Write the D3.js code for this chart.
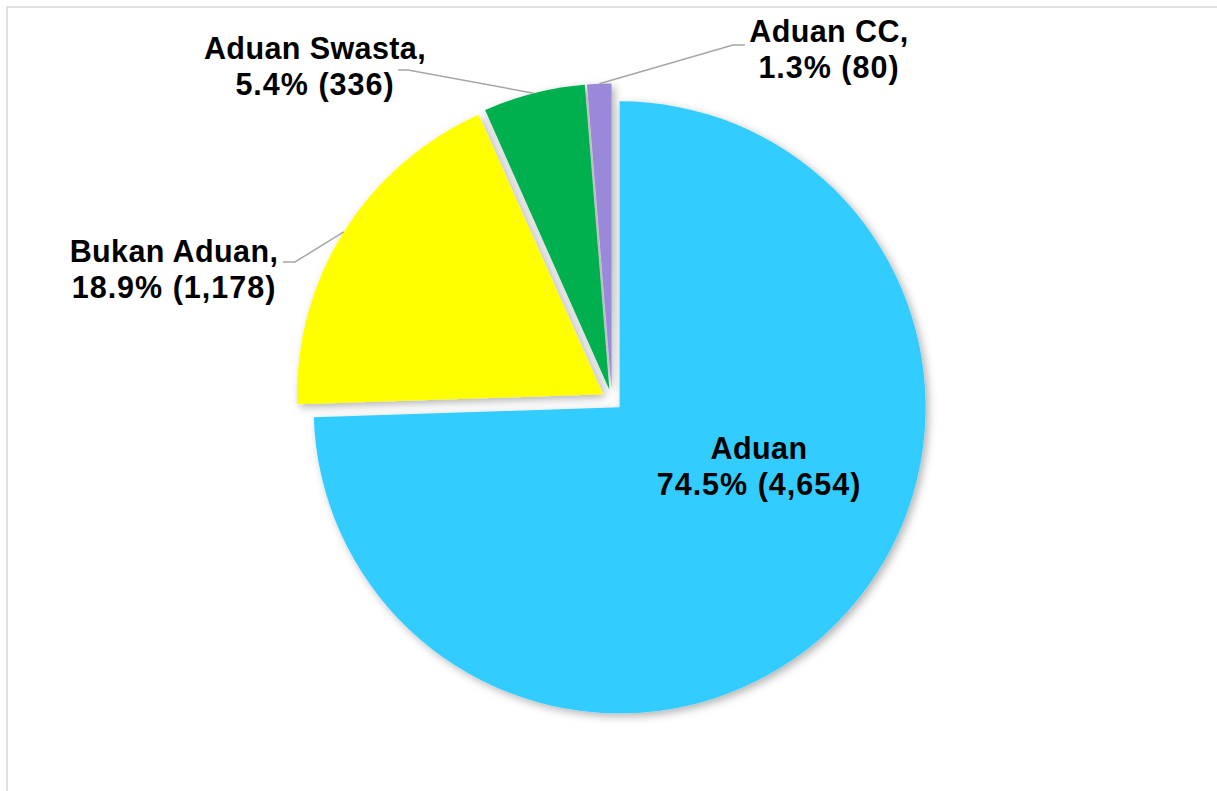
<!DOCTYPE html>
<html>
<head>
<meta charset="utf-8">
<script src="https://cdn.jsdelivr.net/npm/d3@7"></script>
<style>
  body { margin: 0; background: #fff; }
  .lbl { font-family: "Liberation Sans", Arial, sans-serif; font-weight: bold; font-size: 30.5px; fill: #000; }
  .lbl .name { letter-spacing: 0.4px; }
  .lbl .val { letter-spacing: 1px; }
</style>
</head>
<body>
<svg id="chart"></svg>
<script>
// chart data
const categories = ["Aduan", "Bukan Aduan", "Aduan Swasta", "Aduan CC"];
const counts = [4654, 1178, 336, 80];
const colors = ["#33CCFF", "#FFFF00", "#00B050", "#9A88D8"];

const width = 1217, height = 791;
const cx = 612, cy = 400, radius = 306, explode = 10.6;

// label layout: first-line baseline position, and elbow of the leader line
const labelLayout = [
  { x: 759, y: 459, inside: true },
  { x: 174, y: 262, elbow: [295, 262], start: [283, 262] },
  { x: 315, y: 59, elbow: [408, 70], start: [398, 70] },
  { x: 829, y: 42, elbow: [733, 45], start: [745, 45] }
];

const svg = d3.select("#chart").attr("width", width).attr("height", height);

// chart frame
svg.append("rect")
  .attr("x", 7).attr("y", 7)
  .attr("width", width).attr("height", height)
  .attr("fill", "none")
  .attr("stroke", "#D9D9D9")
  .attr("stroke-width", 1.5);

const defs = svg.append("defs");
const f = defs.append("filter").attr("id", "shadow")
  .attr("x", "-20%").attr("y", "-20%").attr("width", "140%").attr("height", "140%");
f.append("feDropShadow")
  .attr("dx", 3).attr("dy", 3)
  .attr("stdDeviation", 4)
  .attr("flood-color", "#000")
  .attr("flood-opacity", 0.3);

const total = d3.sum(counts);
const data = categories.map((c, i) => ({ name: c, value: counts[i], color: colors[i], layout: labelLayout[i] }));

const pie = d3.pie().value(d => d.value).sort(null);
const arc = d3.arc().innerRadius(0).outerRadius(radius);
const arcs = pie(data);

// every slice is pulled out a little from the centre
const shift = a => {
  const m = (a.startAngle + a.endAngle) / 2;
  return [Math.sin(m) * explode, -Math.cos(m) * explode];
};

const g = svg.append("g")
  .attr("transform", `translate(${cx},${cy})`)
  .attr("filter", "url(#shadow)");

g.selectAll("path")
  .data(arcs)
  .join("path")
  .attr("transform", d => `translate(${shift(d)})`)
  .attr("d", arc)
  .attr("fill", d => d.data.color);

const pct = v => d3.format(".1%")(v / total);
const num = d3.format(",");

// leader lines for outside labels
arcs.filter(d => !d.data.layout.inside).forEach(d => {
  const m = (d.startAngle + d.endAngle) / 2;
  const [sx, sy] = shift(d);
  const ex = cx + sx + Math.sin(m) * radius;
  const ey = cy + sy - Math.cos(m) * radius;
  const L = d.data.layout;
  svg.append("polyline")
    .attr("points", [L.start, L.elbow, [ex, ey]].map(p => p.join(",")).join(" "))
    .attr("fill", "none")
    .attr("stroke", "#A6A6A6")
    .attr("stroke-width", 1.5);
});

// labels
arcs.forEach(d => {
  const L = d.data.layout;
  const t = svg.append("text")
    .attr("class", "lbl")
    .attr("text-anchor", "middle");
  t.append("tspan")
    .attr("class", "name")
    .attr("x", L.x).attr("y", L.y)
    .text(L.inside ? d.data.name : d.data.name + ",");
  t.append("tspan")
    .attr("class", "val")
    .attr("x", L.x).attr("y", L.y + 36)
    .text(`${pct(d.data.value)} (${num(d.data.value)})`);
});
</script>
</body>
</html>
